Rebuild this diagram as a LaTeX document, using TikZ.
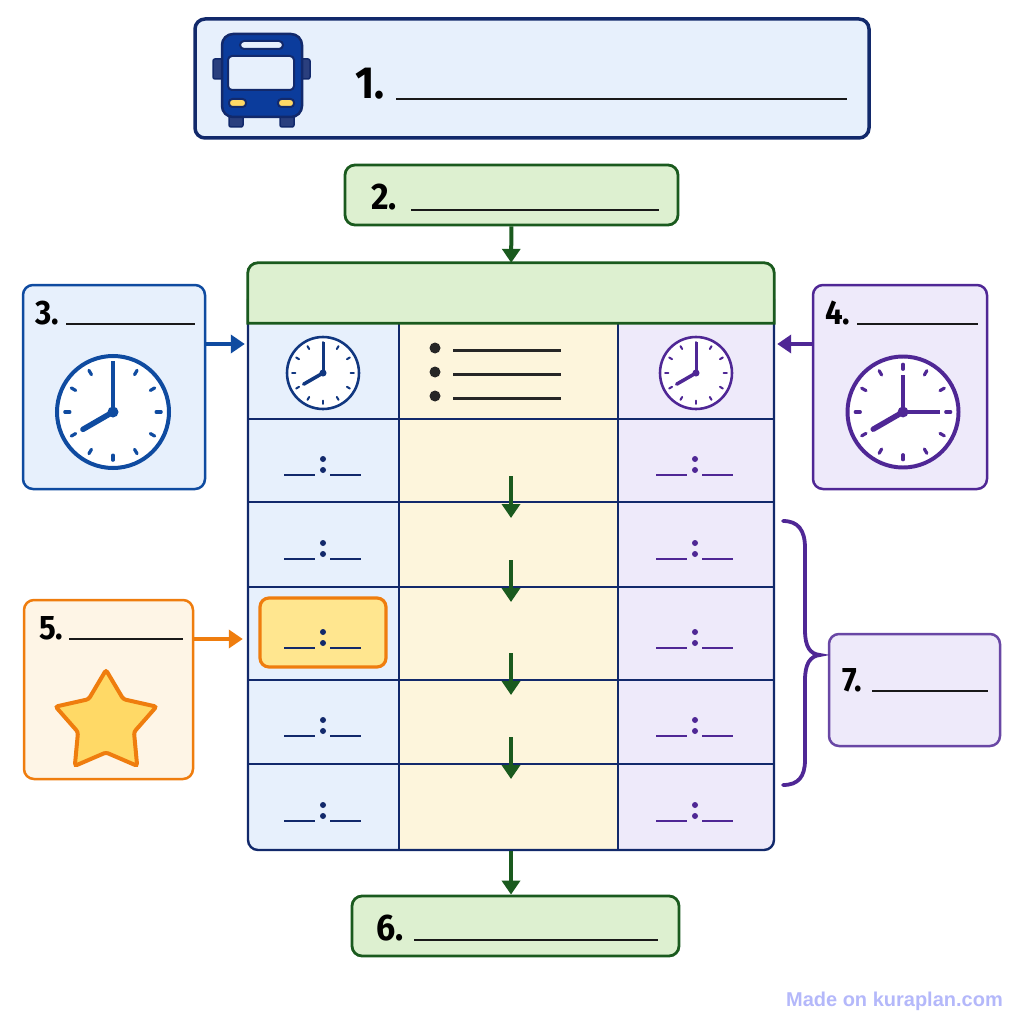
\documentclass[tikz,border=0pt]{standalone}
\usepackage{fontspec}
\setmainfont{Liberation Sans}
\newfontfamily\numfont[FakeStretch=0.92]{Fira Sans}
\usetikzlibrary{arrows.meta,shapes.geometric,positioning,calc}
\definecolor{navy}{HTML}{12296B}
\definecolor{busblue}{HTML}{0B3C9C}
\definecolor{busdark}{HTML}{2A3F7E}
\definecolor{cueblue}{HTML}{0F4BA0}
\definecolor{paleblue}{HTML}{E7F0FC}
\definecolor{darkgreen}{HTML}{1A5A1E}
\definecolor{palegreen}{HTML}{DDF0D0}
\definecolor{cream}{HTML}{FDF5DC}
\definecolor{cuepurple}{HTML}{4F2795}
\definecolor{palepurple}{HTML}{EEEAFA}
\definecolor{cueorange}{HTML}{EF7D0E}
\definecolor{paleorange}{HTML}{FEF5E6}
\definecolor{gold}{HTML}{FFD966}
\definecolor{slotyellow}{HTML}{FFE68F}
\definecolor{creditblue}{HTML}{B4B8FA}
\tikzset{
  panel/.style={draw, rounded corners=10pt, line width=2.5pt, inner sep=0pt},
  num/.style={anchor=base west, inner sep=0pt},
  blank/.style={line width=2.4pt, black!90},
  flow/.style={line width=4pt, -{Triangle[length=14pt,width=18pt]}},
  gridline/.style={line width=2.2pt, navy}
}
% clock: name, x, y, radius, colour
\newcommand{\clockface}[5]{
  \pgfmathsetmacro{\lw}{#4/56}
  \node[draw=#5, fill=white, circle, minimum size=#4*2pt, inner sep=0pt, line width=\lw*4pt] (#1) at (#2,#3) {};
  \foreach \a in {30,60,...,360} {
    \draw[#5, line width=\lw*3.2pt, line cap=round] ($(#1.center)+(\a:#4*0.77)$) -- ($(#1.center)+(\a:#4*0.86)$);
  }
  \draw[#5, line width=\lw*5.5pt, line cap=round] (#1.center) -- +(150:#4*0.62);
  \fill[#5] (#1.center) circle (\lw*5.5pt);
}
% time slot: x of colon, y of the lines, colour
\newcommand{\timeslot}[3]{
  \draw[#3, line width=2.4pt] (#1-39,#2) -- (#1-8,#2);
  \draw[#3, line width=2.4pt] (#1+7,#2) -- (#1+38,#2);
  \fill[#3] (#1,#2-16) circle (3pt);
  \fill[#3] (#1,#2-5) circle (3pt);
}
\begin{document}
\begin{tikzpicture}[x=1pt,y=-1pt]
\useasboundingbox (0,0) rectangle (1024,1024);
% top panels
\node[panel, draw=navy, fill=paleblue, line width=3.5pt, minimum width=674pt, minimum height=119pt] (route) at (532,78.5) {};
\node[panel, draw=darkgreen, fill=palegreen, line width=2.8pt, minimum width=333pt, minimum height=60pt] (start) at (511.5,195) {};
% side panels
\node[panel, draw=cueblue, fill=paleblue, minimum width=182pt, minimum height=204pt] (depart) at (114,387) {};
\node[panel, draw=cuepurple, fill=palepurple, minimum width=174pt, minimum height=204pt] (arrive) at (900,387) {};
\node[panel, draw=cueorange, fill=paleorange, minimum width=169pt, minimum height=179pt] (myride) at (108.5,689.5) {};
\node[panel, draw=cuepurple!85, fill=palepurple, minimum width=171pt, minimum height=112pt] (duration) at (914.5,690) {};
\node[panel, draw=darkgreen, fill=palegreen, line width=2.8pt, minimum width=327pt, minimum height=60pt] (finish) at (515.5,926) {};
% table columns
\begin{scope}
  \clip[rounded corners=10pt] (248,300) rectangle (774,850);
  \fill[paleblue] (248,300) rectangle (399,850);
  \fill[cream] (399,300) rectangle (618,850);
  \fill[palepurple] (618,300) rectangle (774,850);
\end{scope}
\foreach \y in {419,502,587,680,764} {
  \draw[gridline] (248,\y) -- (774,\y);
}
\draw[gridline] (399,323) -- (399,850);
\draw[gridline] (618,323) -- (618,850);
\node[draw=navy, line width=2.4pt, rounded corners=10pt, minimum width=526pt, minimum height=560pt, inner sep=0pt] (timetable) at (511,570) {};
\node[minimum width=526pt, minimum height=60pt, inner sep=0pt] (header) at (511,293) {};
\draw[darkgreen, fill=palegreen, line width=2.8pt] (header.south west) [rounded corners=10pt] -- (header.north west) -- (header.north east) [sharp corners] -- (header.south east) -- cycle;
% numbers and blanks
\foreach \n/\tx/\ty/\sz/\lx/\ly in {1/355/99/45/847/396, 2/371/210/37/659/411, 3/35/324/34/195/66, 4/825/324/34/978/857, 5/39/639/34/183/69, 6/376/940/37/658/414, 7/842/691/34/988/872} {
  \node[num, font=\numfont\bfseries\fontsize{\sz}{\sz}\selectfont] (num\n) at (\tx,\ty) {\n.};
  \draw[blank] (\ly,\ty) -- (\lx,\ty);
}
% bus
\draw[navy, fill=busdark, line width=1.5pt, rounded corners=2pt] (213,59) rectangle (223,79);
\draw[navy, fill=busdark, line width=1.5pt, rounded corners=2pt] (301,59) rectangle (310,79);
\draw[navy, fill=busdark, line width=1.5pt, rounded corners=2pt] (229,112) rectangle (243,127);
\draw[navy, fill=busdark, line width=1.5pt, rounded corners=2pt] (280,112) rectangle (294,127);
\draw[navy, fill=busblue, line width=2.5pt, rounded corners=11pt] (222,34) rectangle (302,117);
\draw[navy, fill=paleblue, line width=2pt, rounded corners=4pt] (240,41) rectangle (283,49);
\draw[navy, fill=paleblue, line width=2pt, rounded corners=4pt] (228,56) rectangle (294,90);
\draw[navy, fill=gold, line width=2pt, rounded corners=3.5pt] (229,99) rectangle (246,107);
\draw[navy, fill=gold, line width=2pt, rounded corners=3.5pt] (278,99) rectangle (294,107);
% clocks
\clockface{bigdep}{113}{412}{56}{cueblue}
\draw[cueblue, line width=4.5pt] (bigdep.center) -- +(0,-51);
\clockface{smalldep}{323}{373}{36}{navy!60!cueblue}
\draw[navy!60!cueblue, line width=3pt] (smalldep.center) -- +(0,-31);
\clockface{smallarr}{696}{373}{36}{cuepurple}
\draw[cuepurple, line width=3pt] (smallarr.center) -- +(0,-31);
\clockface{bigarr}{903}{412}{55.5}{cuepurple}
\draw[cuepurple, line width=4.5pt] (bigarr.center) -- +(0,-37);
\draw[cuepurple, line width=4.5pt] (bigarr.center) -- +(37,0);
% bullet list
\foreach \y in {350,374,398} {
  \fill[black!85] (435,\y-2) circle (5.5pt);
  \draw[line width=3pt, black!85] (453,\y) -- (561,\y);
}
% highlighted slot
\node[draw=cueorange, fill=slotyellow, line width=3.2pt, rounded corners=9pt, minimum width=126pt, minimum height=69pt, inner sep=0pt] (myslot) at (323,632.5) {};
% time slots
\foreach \y in {475,559,648,736,821} {
  \timeslot{323}{\y}{navy}
}
\foreach \y in {475,559,648,736,821} {
  \timeslot{695}{\y}{cuepurple}
}
% star
\node[draw=cueorange, fill=gold, star, star points=5, star point ratio=1.8, minimum size=106pt, inner sep=0pt, line width=4pt, rounded corners=2.5pt] (medal) at (106,723) {};
% arrows
\coordinate (cue3) at (depart.east |- 0,344);
\coordinate (tip3) at (timetable.west |- 0,344);
\coordinate (cue4) at (arrive.west |- 0,344);
\coordinate (tip4) at (timetable.east |- 0,344);
\coordinate (cue5) at (myride.east |- 0,639);
\coordinate (tip5) at ($(timetable.west |- 0,639)+(-4,0)$);
\draw[flow, cueblue] (cue3) -- ($(tip3)+(-2,0)$);
\draw[flow, cuepurple] (cue4) -- ($(tip4)+(2,0)$);
\draw[flow, cueorange] (cue5) -- (tip5);
\draw[flow, darkgreen] (start) -- (header);
\draw[flow, darkgreen] (timetable.south) -- (timetable.south |- finish.north);
\foreach \a/\b in {476/518,560/602,653/695,737/779} {
  \coordinate (from\a) at (511,\a);
  \coordinate (to\a) at (511,\b);
  \draw[flow, darkgreen] (from\a) -- (to\a);
}
% brace
\draw[cuepurple, line width=3.8pt, line cap=round] (783,521) .. controls (798,521) and (805,530) .. (805,548) -- (805,630) .. controls (805,647) and (810,654) .. (820,655) .. controls (810,656) and (805,664) .. (805,680) -- (805,760) .. controls (805,777) and (798,785) .. (783,785);
% footer
\node[anchor=base east, inner sep=0pt, text=creditblue, font=\bfseries\fontsize{20}{20}\selectfont] (credit) at (1003,1006) {Made on kuraplan.com};
\end{tikzpicture}
\end{document}
